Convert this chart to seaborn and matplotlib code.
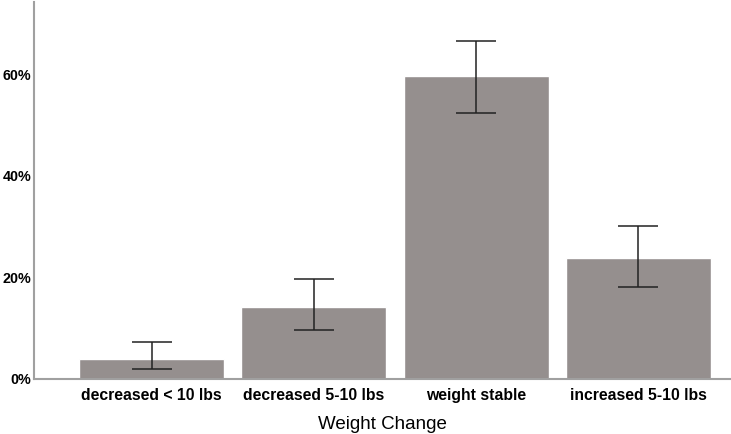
import matplotlib
matplotlib.use("Agg")
import matplotlib.pyplot as plt
import seaborn as sns
import pandas as pd
from matplotlib.ticker import PercentFormatter

# percent of respondents per weight change group, with 95% CI bounds
categories = ["decreased < 10 lbs", "decreased 5-10 lbs", "weight stable", "increased 5-10 lbs"]
percent = [3.9, 14.2, 59.6, 23.8]
ci_low = [2.0, 9.6, 52.4, 18.1]
ci_high = [7.3, 19.7, 66.5, 30.1]

df = pd.DataFrame({"Weight Change": categories, "percent": percent})

sns.set_style("white")
plt.rcParams["font.family"] = ["Liberation Sans", "DejaVu Sans"]

fig = plt.figure(figsize=(7.31, 4.34), dpi=100)
ax = fig.add_axes([34 / 731, 55 / 434, 697 / 731, 377 / 434])

sns.barplot(data=df, x="Weight Change", y="percent", color="#958f8e",
            saturation=1, width=0.893, errorbar=None, ax=ax)

err_lo = [p - lo for p, lo in zip(percent, ci_low)]
err_hi = [hi - p for p, hi in zip(percent, ci_high)]
ax.errorbar(range(len(categories)), percent, yerr=[err_lo, err_hi], fmt="none",
            ecolor="#222222", elinewidth=1.1, capsize=14.5, capthick=1.1)

ax.set_xlim(-0.724, 3.57)
ax.set_ylim(0, 74.2)
ax.set_yticks([0, 20, 40, 60])
ax.yaxis.set_major_formatter(PercentFormatter(decimals=0))
ax.tick_params(axis="y", length=0, pad=2, labelcolor="black")
ax.tick_params(axis="x", length=0, pad=6.5, labelcolor="black")
for lab in ax.get_xticklabels():
    lab.set_fontweight("bold")
    lab.set_fontsize(11.3)
for lab in ax.get_yticklabels():
    lab.set_fontweight("bold")
    lab.set_fontsize(10.3)
ax.set_ylabel("")
ax.set_xlabel("Weight Change", fontsize=13.5, labelpad=9, color="black")

sns.despine(ax=ax)
for s in ["left", "bottom"]:
    ax.spines[s].set_color("#a0a0a0")
    ax.spines[s].set_linewidth(1.5)

fig.savefig("out.png", dpi=100)
